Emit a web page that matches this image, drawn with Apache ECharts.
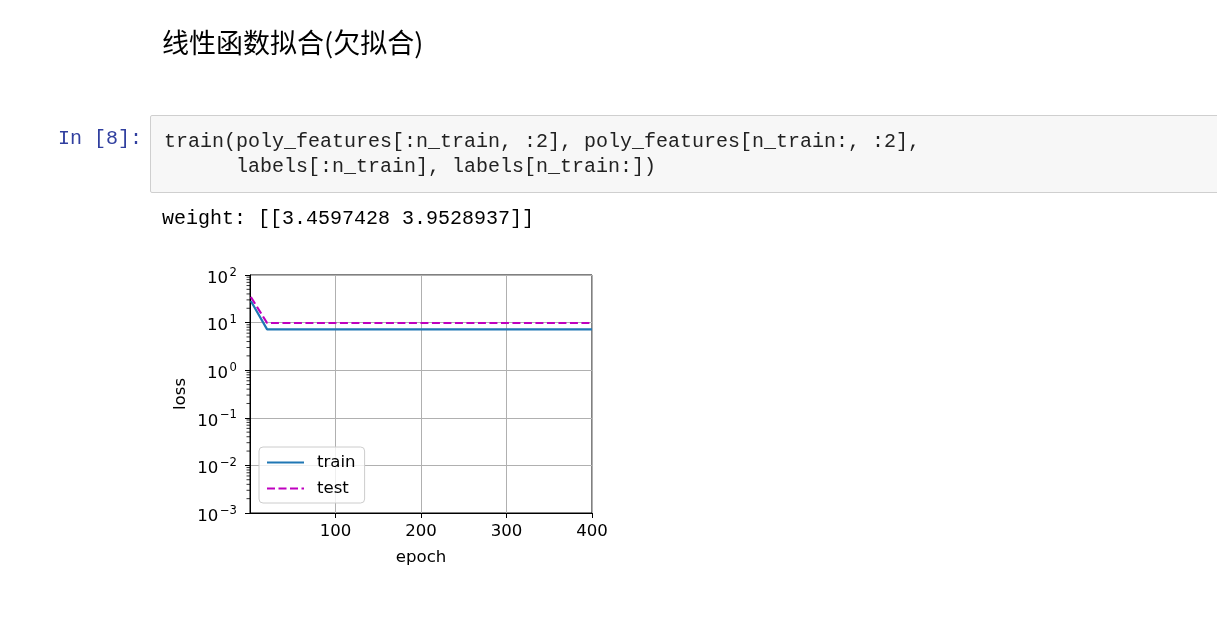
<!DOCTYPE html>
<html>
<head>
<meta charset="utf-8">
<script src="https://cdn.jsdelivr.net/npm/echarts@6/dist/echarts.min.js"></script>
<style>
  html, body { margin: 0; padding: 0; background: #fff; }
  body { width: 1217px; height: 634px; position: relative; overflow: hidden; }
  #chart { position: absolute; left: 0; top: 0; width: 1217px; height: 634px; }
  .txt { position: absolute; white-space: pre; pointer-events: none; }
  #title { left: 162px; top: 28px; font-family: "Noto Sans CJK SC", sans-serif; font-size: 27px; line-height: 28px; color: #000; letter-spacing: 0px; }
  #prompt { left: 58px; top: 126px; font-family: "Liberation Mono", monospace; font-size: 20px; line-height: 25px; color: #303F9F; }
  #cell { position: absolute; left: 150px; top: 115px; width: 1080px; height: 78px; background: #f7f7f7; border: 1px solid #cfcfcf; border-radius: 2px; box-sizing: border-box; }
  #code { left: 164px; top: 129px; font-family: "Liberation Mono", monospace; font-size: 20px; line-height: 25px; color: #222; }
  #out { left: 162px; top: 206px; font-family: "Liberation Mono", monospace; font-size: 20px; line-height: 25px; color: #000; }
</style>
</head>
<body>
<div id="chart"></div>
<div id="title" class="txt">线性函数拟合(欠拟合)</div>
<div id="prompt" class="txt">In [8]:</div>
<div id="cell"></div>
<div id="code" class="txt">train(poly_features[:n_train, :2], poly_features[n_train:, :2],
      labels[:n_train], labels[n_train:])</div>
<div id="out" class="txt">weight: [[3.4597428 3.9528937]]</div>
<script>
// ---- data ----
const epochs = [1, 20, 40, 60, 80, 100, 120, 140, 160, 180, 200, 220, 240, 260, 280, 300, 320, 340, 360, 380, 400];
const trainLoss = [28.5, 7.2, 7.2, 7.2, 7.2, 7.2, 7.2, 7.2, 7.2, 7.2, 7.2, 7.2, 7.2, 7.2, 7.2, 7.2, 7.2, 7.2, 7.2, 7.2, 7.2];
const testLoss = [34.5, 9.8, 9.8, 9.8, 9.8, 9.8, 9.8, 9.8, 9.8, 9.8, 9.8, 9.8, 9.8, 9.8, 9.8, 9.8, 9.8, 9.8, 9.8, 9.8, 9.8];
const seriesNames = ['train', 'test'];
const xTicks = [100, 200, 300, 400];
const yDecades = [0.001, 0.01, 0.1, 1, 10, 100];
const minorMultipliers = [2, 3, 4, 5, 6, 7, 8, 9];

const minorTicks = [];
for (let i = 0; i < yDecades.length - 1; i++) {
  for (const m of minorMultipliers) minorTicks.push([0, yDecades[i] * m]);
}

const FONT = 'DejaVu Sans';
const FS = 16.6;

const chart = echarts.init(document.getElementById('chart'), null, { renderer: 'canvas' });
chart.setOption({
  animation: false,
  backgroundColor: 'transparent',
  grid: { left: 250, top: 275, width: 342, height: 238, show: true, borderColor: '#000', borderWidth: 1, backgroundColor: 'transparent' },
  legend: {
    data: seriesNames,
    orient: 'vertical',
    left: 259, top: 447,
    padding: [7, 9, 6, 7],
    itemGap: 9,
    itemWidth: 37, itemHeight: 14,
    backgroundColor: 'rgba(255,255,255,0.8)',
    borderColor: '#cccccc', borderWidth: 1, borderRadius: 4,
    itemStyle: { opacity: 0 },
    textStyle: { fontFamily: FONT, fontSize: FS, color: '#000', padding: [0, 0, 0, 8] },
    selectedMode: false
  },
  xAxis: {
    type: 'value', min: 0, max: 400, interval: 100,
    name: 'epoch', nameLocation: 'middle', nameGap: 36,
    nameTextStyle: { fontFamily: FONT, fontSize: FS, color: '#000' },
    axisLine: { show: true, lineStyle: { color: '#000', width: 1 } },
    axisTick: { show: true, inside: false, length: 5, lineStyle: { color: '#000', width: 1 }, customValues: xTicks },
    axisLabel: { margin: 10, fontFamily: FONT, fontSize: FS, color: '#000', customValues: xTicks,
      formatter: v => (xTicks.indexOf(v) >= 0 ? String(v) : '') },
    splitLine: { show: true, lineStyle: { color: '#b0b0b0', width: 1 } }
  },
  yAxis: {
    type: 'log', logBase: 10, min: 0.001, max: 100,
    name: 'loss', nameLocation: 'middle', nameGap: 61, nameRotate: 90,
    nameTextStyle: { fontFamily: FONT, fontSize: FS, color: '#000' },
    axisLine: { show: true, lineStyle: { color: '#000', width: 1 } },
    axisTick: { show: true, inside: false, length: 5, lineStyle: { color: '#000', width: 1 } },
    axisLabel: {
      margin: 13, color: '#000',
      formatter: v => {
        const e = Math.round(Math.log10(v));
        return '{b|10}{s|' + (e < 0 ? '\u2212' + (-e) : String(e)) + '}';
      },
      rich: {
        b: { fontFamily: FONT, fontSize: FS, color: '#000', lineHeight: 24, verticalAlign: 'bottom' },
        s: { fontFamily: FONT, fontSize: 11.6, color: '#000', lineHeight: 18, verticalAlign: 'top', padding: [3.5, 0, 0, 1.5] }
      }
    },
    splitLine: { show: true, lineStyle: { color: '#b0b0b0', width: 1 } }
  },
  series: [
    {
      name: seriesNames[0], type: 'line', showSymbol: false, symbol: 'none',
      data: epochs.map((e, i) => [e, trainLoss[i]]),
      lineStyle: { color: '#1f77b4', width: 2.2 }, itemStyle: { color: '#1f77b4' }, z: 3
    },
    {
      name: seriesNames[1], type: 'line', showSymbol: false, symbol: 'none',
      data: epochs.map((e, i) => [e, testLoss[i]]),
      lineStyle: { color: '#bf00bf', width: 2.2, type: [8, 3.5] }, itemStyle: { color: '#bf00bf' }, z: 4
    },
    {
      name: 'minorTicks', type: 'custom', silent: true, clip: false,
      data: minorTicks,
      renderItem: (params, api) => {
        const p = api.coord([api.value(0), api.value(1)]);
        return { type: 'line', shape: { x1: p[0] - 3.5, y1: p[1], x2: p[0], y2: p[1] }, style: { stroke: '#000', lineWidth: 0.8 } };
      },
      z: 5
    }
  ]
});
</script>
</body>
</html>
